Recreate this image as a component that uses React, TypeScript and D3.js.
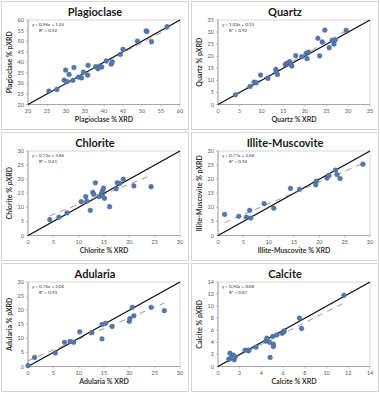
import React from "react";
import * as d3 from "d3";

type Pt = [number, number];

const plagPoints: Pt[] = [
  [25.5, 26.3], [27.6, 27.1], [29.5, 31.5], [30.3, 30.8], [29.9, 36.3], [30.8, 34.2],
  [31.8, 31.4], [32.1, 37.5], [33.3, 33.0], [34.1, 32.6], [34.6, 35.3], [35.7, 33.9],
  [35.8, 38.5], [37.8, 37.9], [38.4, 36.9], [38.9, 38.2], [39.4, 37.7], [40.6, 40.6],
  [41.9, 39.1], [42.2, 40.2], [44.3, 43.7], [45.0, 46.1], [48.8, 50.0], [51.1, 54.8],
  [51.3, 54.5], [52.5, 49.7], [56.6, 56.8],
];
const quartzPoints: Pt[] = [
  [4.0, 4.0], [7.4, 7.5], [8.3, 9.3], [8.8, 9.0], [9.8, 12.2], [11.5, 10.8], [13.3, 14.5],
  [13.4, 13.4], [13.7, 12.4], [15.5, 16.6], [15.9, 17.0], [16.3, 17.3], [16.5, 17.8],
  [16.7, 16.6], [17.0, 15.9], [17.9, 20.2], [19.3, 19.8], [20.3, 21.2], [20.5, 19.0],
  [20.9, 21.7], [23.0, 27.4], [23.4, 20.1], [24.0, 25.9], [24.6, 30.8], [25.6, 23.5],
  [26.3, 26.6], [26.7, 25.0], [27.0, 26.7], [29.5, 30.7],
];
const chloritePoints: Pt[] = [
  [4.3, 5.6], [6.1, 6.5], [7.7, 8.0], [10.5, 12.0], [11.4, 13.8], [11.6, 12.2], [12.3, 8.9],
  [12.8, 15.3], [13.0, 14.6], [13.3, 18.7], [14.0, 13.8], [14.5, 14.9], [14.7, 15.8],
  [14.9, 16.8], [15.1, 13.2], [14.7, 14.0], [16.1, 10.2], [17.4, 16.6], [17.6, 18.7],
  [18.1, 18.5], [18.8, 20.0], [20.9, 17.6], [24.3, 17.3],
];
const illitePoints: Pt[] = [
  [1.3, 7.5], [4.1, 6.8], [5.6, 6.5], [6.25, 8.9], [6.45, 6.2], [9.1, 11.3], [11.0, 9.7],
  [14.3, 16.7], [16.1, 16.4], [19.3, 18.0], [19.4, 19.3], [21.5, 20.4], [21.9, 21.3],
  [23.2, 23.2], [23.5, 21.6], [24.1, 20.2], [28.6, 25.3],
];
const adulariaPoints: Pt[] = [
  [0.0, 0.3], [1.3, 3.2], [5.4, 4.8], [7.2, 8.6], [8.3, 8.9], [9.0, 8.6], [10.2, 12.3],
  [12.6, 12.0], [14.6, 14.9], [15.3, 15.3], [14.6, 9.8], [16.6, 14.2], [20.0, 16.0],
  [20.1, 17.0], [20.6, 21.0], [20.9, 18.0], [24.3, 21.0], [26.9, 19.8],
];
const calcitePoints: Pt[] = [
  [1.0, 1.2], [1.1, 2.2], [1.2, 1.4], [1.4, 1.9], [1.5, 1.1], [1.6, 1.6], [1.3, 1.5],
  [2.5, 2.7], [2.8, 2.6], [2.85, 2.7], [3.5, 3.2], [4.4, 4.2], [4.5, 4.7], [4.75, 4.0],
  [4.8, 1.5], [5.05, 5.0], [5.1, 3.7], [5.1, 3.3], [5.4, 5.2], [5.9, 5.5], [6.05, 5.7],
  [6.1, 5.9], [7.5, 8.0], [7.7, 6.3], [11.6, 11.8],
];

const mineralNames = ["Plagioclase", "Quartz", "Chlorite", "Illite-Muscovite", "Adularia", "Calcite"];
const allPoints = [plagPoints, quartzPoints, chloritePoints, illitePoints, adulariaPoints, calcitePoints];
const axisDomains: [number, number][] = [[20, 60], [0, 35], [0, 30], [0, 30], [0, 30], [0, 14]];
const tickSteps = [5, 5, 5, 5, 5, 2];
const slopes = [0.96, 1.03, 0.72, 0.77, 0.76, 0.9];
const intercepts = [1.25, 0.15, 3.86, 3.58, 2.06, 0.08];
const rSquared = ["0.92", "0.92", "0.61", "0.94", "0.93", "0.87"];

const FONT = "Lato, 'Open Sans', 'Liberation Sans', sans-serif";
const PW = 188;
const PH = 129;
const PL = 27;
const PR = 179;
const PT = 19;
const PB = 103.5;

function Panel({ idx, ox, oy }: { idx: number; ox: number; oy: number }) {
  const name = mineralNames[idx];
  const pts = allPoints[idx];
  const dom = axisDomains[idx];
  const step = tickSteps[idx];
  const x = d3.scaleLinear().domain(dom).range([PL, PR]);
  const y = d3.scaleLinear().domain(dom).range([PB, PT]);
  const ticks = d3.range(dom[0], dom[1] + 0.001, step);
  const xs = pts.map((p) => p[0]);
  const x0 = d3.min(xs)!;
  const x1 = d3.max(xs)!;
  const a = slopes[idx];
  const b = intercepts[idx];
  const line = d3.line<number>().x((v) => x(v)).y((v) => y(a * v + b));
  const eq = `y = ${a.toFixed(2)}x + ${b.toFixed(2)}`;
  return (
    <g transform={`translate(${ox},${oy})`}>
      <rect x={0.5} y={0.5} width={PW - 1} height={PH - 1} fill="#fff" stroke="#d4d4d4" strokeWidth={1} />
      <text x={PW / 2} y={15} textAnchor="middle" fontFamily={FONT} fontWeight="bold" fontSize={11} fill="#1a1a1a">
        {name}
      </text>
      <rect x={PL} y={PT} width={PR - PL} height={PB - PT} fill="none" stroke="#c9ccd9" strokeWidth={0.8} />
      <line x1={PL} x2={PL} y1={PT} y2={PB} stroke="#9a9a9a" strokeWidth={0.8} />
      <line x1={PL} x2={PR} y1={PB} y2={PB} stroke="#9a9a9a" strokeWidth={0.8} />
      {ticks.map((t) => (
        <g key={"y" + t}>
          <line x1={PL - 2} x2={PL} y1={y(t)} y2={y(t)} stroke="#9a9a9a" strokeWidth={0.6} />
          <text x={PL - 4} y={y(t) + 2} textAnchor="end" fontFamily={FONT} fontSize={5.5} fill="#595959">
            {t}
          </text>
        </g>
      ))}
      {ticks.map((t) => (
        <g key={"x" + t}>
          <line x1={x(t)} x2={x(t)} y1={PB} y2={PB + 2} stroke="#9a9a9a" strokeWidth={0.6} />
          <text x={x(t)} y={PB + 8} textAnchor="middle" fontFamily={FONT} fontSize={5.5} fill="#595959">
            {t}
          </text>
        </g>
      ))}
      <text x={(PL + PR) / 2} y={PB + 17} textAnchor="middle" fontFamily={FONT} fontWeight="bold" fontSize={7} fill="#333">
        {name} % XRD
      </text>
      <text
        transform={`translate(${11},${(PT + PB) / 2}) rotate(-90)`}
        textAnchor="middle"
        fontFamily={FONT}
        fontWeight="bold"
        fontSize={7}
        fill="#333"
      >
        {name} % pXRD
      </text>
      <line x1={x(dom[0])} y1={y(dom[0])} x2={x(dom[1])} y2={y(dom[1])} stroke="#111" strokeWidth={1.4} />
      <path d={line([x0, x1]) || ""} fill="none" stroke="#6f6f6f" strokeWidth={0.7} strokeDasharray="6,5" />
      {pts.map((p, i) => (
        <circle key={i} cx={x(p[0])} cy={y(p[1])} r={2.4} fill="#5677ab" stroke="#3f5f92" strokeWidth={0.4} />
      ))}
      <text x={PL + 4} y={PT + 6} fontFamily={FONT} fontSize={4.5} fill="#333">
        {eq}
      </text>
      <text x={PL + 11} y={PT + 12} fontFamily={FONT} fontSize={4.5} fill="#333">
        R² = {rSquared[idx]}
      </text>
    </g>
  );
}

export default function App() {
  const cols = [1, 191];
  const rows = [1, 132, 263];
  return (
    <svg width={380} height={393} style={{ position: "absolute", left: 0, top: 0 }}>
      <rect width={380} height={393} fill="#fff" />
      {mineralNames.map((_, i) => (
        <Panel key={i} idx={i} ox={cols[i % 2]} oy={rows[Math.floor(i / 2)]} />
      ))}
    </svg>
  );
}
